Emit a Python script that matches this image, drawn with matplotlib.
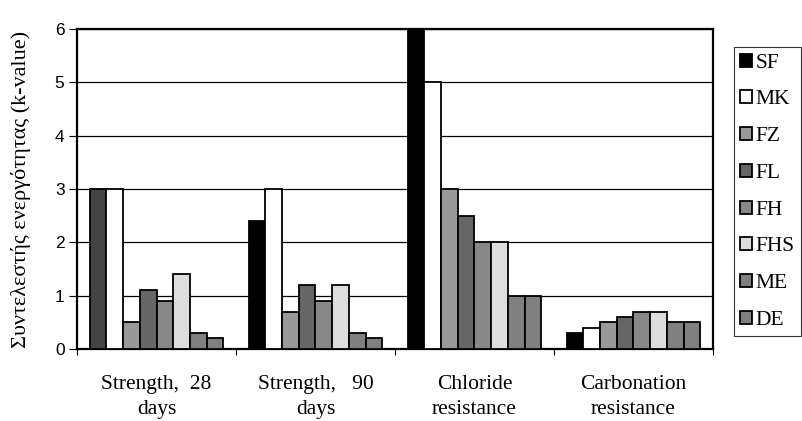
import matplotlib.pyplot as plt
from matplotlib.patches import Patch
import numpy as np

categories = ['Strength,  28\ndays', 'Strength,   90\ndays', 'Chloride\nresistance', 'Carbonation\nresistance']
series = ['SF', 'MK', 'FZ', 'FL', 'FH', 'FHS', 'ME', 'DE']
SF = [3, 2.4, 6, 0.3]
MK = [3, 3, 5, 0.4]
FZ = [0.5, 0.7, 3, 0.5]
FL = [1.1, 1.2, 2.5, 0.6]
FH = [0.9, 0.9, 2, 0.7]
FHS = [1.4, 1.2, 2, 0.7]
ME = [0.3, 0.3, 1, 0.5]
DE = [0.2, 0.2, 1, 0.5]
values = [SF, MK, FZ, FL, FH, FHS, ME, DE]

colors = ['#000000', '#ffffff', '#999999', '#666666', '#888888', '#dddddd', '#808080', '#808080']

fig = plt.figure(figsize=(8.03, 4.21), dpi=100)
ax = fig.add_axes([0.0959, 0.171, 0.792, 0.760])

x = np.arange(len(categories))
w = 0.105
for i, (name, vals) in enumerate(zip(series, values)):
    pos = x - 4 * w + (i + 0.5) * w
    bars = ax.bar(pos, vals, width=w, color=colors[i], edgecolor='black',
                  linewidth=1.3, zorder=3)
    if name == 'SF':
        bars[0].set_facecolor('#444444')

ax.set_ylim(0, 6)
ax.set_xlim(-0.5, len(categories) - 0.5)
ax.set_yticks(range(7))
ax.yaxis.grid(True, color='black', linewidth=0.9, zorder=0)
ax.set_axisbelow(True)
for s in ax.spines.values():
    s.set_linewidth(1.6)
ax.tick_params(axis='y', length=6, width=0.8, pad=3)
ax.set_yticklabels([str(v) for v in range(7)], family='Liberation Sans', fontsize=12.5)

ax.set_xticks(x)
ax.set_xticklabels(categories, family='Liberation Serif', fontsize=15.5, linespacing=1.4)
ax.tick_params(axis='x', length=0, pad=19)
ax.set_xticks(np.arange(len(categories) + 1) - 0.5, minor=True)
ax.tick_params(axis='x', which='minor', length=4.5, width=0.8)

ax.set_ylabel('Συντελεστής ενεργότητας (k-value)', family='Liberation Serif',
              fontsize=16, labelpad=17)

handles = [Patch(facecolor=c, edgecolor='black', linewidth=1.3) for c in colors]
leg = fig.legend(handles, series, loc='upper left', bbox_to_anchor=(0.914, 0.888),
                 prop={'family': 'Liberation Serif', 'size': 15.5},
                 frameon=True, fancybox=False, edgecolor='black', handlelength=0.55,
                 handleheight=0.55, handletextpad=0.15, labelspacing=0.82, borderpad=0.3,
                 borderaxespad=0)
leg.get_frame().set_linewidth(0.8)

fig.savefig('out.png', dpi=100)
